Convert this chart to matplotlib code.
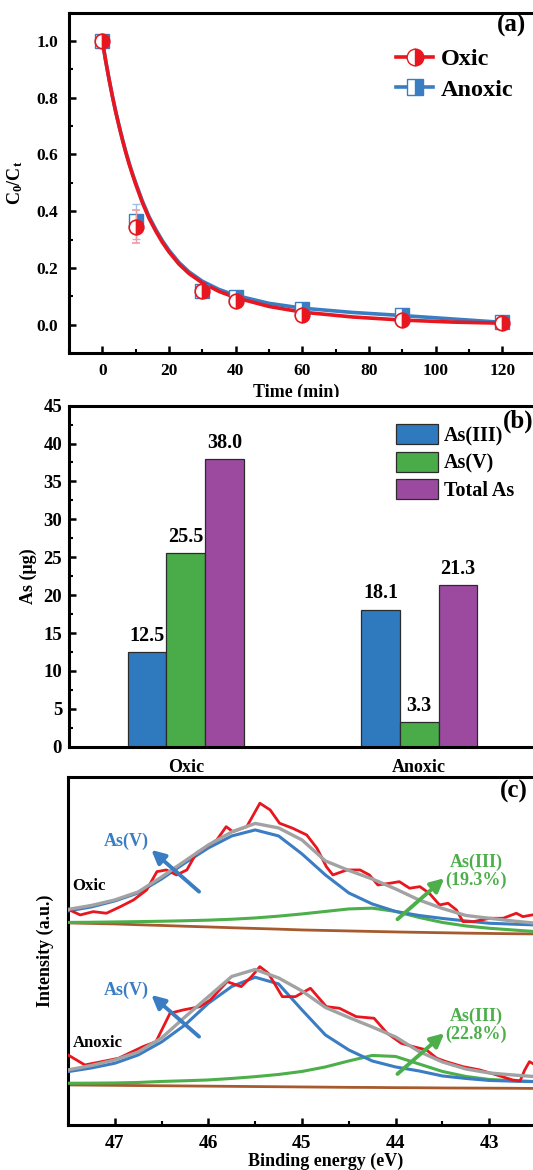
import matplotlib
matplotlib.use("Agg")
import matplotlib.pyplot as plt
from matplotlib.lines import Line2D
from matplotlib.patches import Rectangle
from matplotlib.ticker import MultipleLocator

plt.rcParams["font.family"] = ["Liberation Serif", "DejaVu Serif"]
plt.rcParams["font.weight"] = "bold"
plt.rcParams["axes.labelweight"] = "bold"
plt.rcParams["mathtext.fontset"] = "custom"
plt.rcParams["mathtext.rm"] = "Liberation Serif:bold"
plt.rcParams["mathtext.it"] = "Liberation Serif:bold"
plt.rcParams["mathtext.bf"] = "Liberation Serif:bold"

RED = "#e8161e"
BLUE = "#3a7dc2"
GREEN = "#4caf4a"
GRAY = "#a2a2a2"
BROWN = "#a65a2e"
BAR_BLUE = "#2f79bf"
BAR_GREEN = "#4aab49"
BAR_PURPLE = "#9c4aa0"

# ---- (a) kinetics ----
time_pts = [0, 10, 30, 40, 60, 90, 120]
oxic_pts = [1.0, 0.345, 0.12, 0.085, 0.035, 0.017, 0.005]
oxic_err = [0.01, 0.058, 0.015, 0.012, 0.01, 0.01, 0.008]
anoxic_pts = [1.0, 0.365, 0.12, 0.097, 0.055, 0.033, 0.008]
anoxic_err = [0.01, 0.062, 0.015, 0.012, 0.01, 0.01, 0.008]

time_fit = [0, 1, 2, 3, 4, 5, 6, 7, 8, 9, 10, 12, 14, 16, 18, 20, 23, 26, 30, 35,
            40, 50, 60, 75, 90, 105, 120]
oxic_fit = [1.0, 0.93, 0.865, 0.805, 0.75, 0.70, 0.652, 0.608, 0.567, 0.53, 0.495,
            0.43, 0.375, 0.33, 0.29, 0.256, 0.213, 0.18, 0.147, 0.117,
            0.095, 0.064, 0.044, 0.027, 0.016, 0.009, 0.005]
anoxic_fit = [1.0, 0.93, 0.866, 0.807, 0.752, 0.702, 0.655, 0.611, 0.571, 0.534, 0.5,
              0.436, 0.381, 0.336, 0.296, 0.262, 0.219, 0.186, 0.153, 0.124,
              0.103, 0.075, 0.058, 0.043, 0.032, 0.02, 0.008]

# ---- (b) arsenic speciation ----
conditions = ["Oxic", "Anoxic"]
species = ["As(III)", "As(V)", "Total As"]
as3_ug = [12.5, 18.1]
as5_ug = [25.5, 3.3]
total_ug = [38.0, 21.3]

# ---- (c) XPS As 3d ----
e_fit = [47.5, 47.25, 47.0, 46.75, 46.5, 46.25, 46.0, 45.75, 45.5, 45.25, 45.0,
         44.75, 44.5, 44.25, 44.0, 43.75, 43.5, 43.25, 43.0, 42.75, 42.5]
oxic_bg = [202, 201.5, 201, 200.2, 199.5, 198.7, 198, 197.2, 196.5, 195.8, 195,
           194.5, 194, 193.5, 193, 192.6, 192.2, 191.8, 191.5, 191.2, 191]
oxic_as3 = [202.5, 202.7, 203, 203.3, 203.7, 204.2, 204.8, 205.7, 207, 208.8, 211,
            213.5, 216, 216.8, 213.5, 207.5, 202.5, 199, 196.7, 195, 193.3]
oxic_as5 = [214, 218, 224, 232, 246, 262, 277, 289, 295, 289, 271,
            250, 232, 221, 213.5, 209.5, 206.5, 204, 201.7, 200.8, 200]
oxic_env = [215.5, 219.5, 225, 233, 248, 264, 280, 293, 301.5, 297, 285,
            264, 254.5, 246, 236, 225, 216.5, 209.5, 206.7, 204, 201.7]
oxic_e_raw = [47.5, 47.37, 47.23, 47.09, 46.94, 46.8, 46.66, 46.55, 46.45, 46.34,
              46.23, 46.13, 46.02, 45.91, 45.81, 45.74, 45.59, 45.45, 45.34, 45.24,
              45.1, 44.95, 44.84, 44.74, 44.67, 44.52, 44.38, 44.28, 44.19, 44.06,
              43.96, 43.85, 43.74, 43.64, 43.53, 43.44, 43.35, 43.28, 43.17, 42.99,
              42.85, 42.71, 42.64, 42.54]
oxic_raw = [215.7, 210, 213.3, 211.7, 218.3, 225, 235, 253.3, 255, 250,
            255, 271.7, 278.3, 285, 298.3, 293.3, 298.3, 321.7, 315, 301.7,
            296.7, 290, 276.7, 258.3, 250, 255, 255, 250, 240, 241.7,
            243.3, 236.7, 238.3, 231.7, 220, 221.7, 215, 203.3, 203.3, 206.7,
            206.7, 211.7, 208.3, 210]

anoxic_bg = [40, 39.8, 39.6, 39.4, 39.2, 39, 38.8, 38.6, 38.4, 38.2, 38,
             37.8, 37.6, 37.5, 37.3, 37.2, 37, 36.9, 36.8, 36.7, 36.5]
anoxic_as3 = [41.7, 41.8, 42, 42.5, 43.5, 44.2, 45, 46.5, 48.3, 50.5, 53.5,
              58, 64, 69.5, 68.5, 61, 53.5, 48.5, 45.5, 44.3, 43.3]
anoxic_as5 = [53.3, 57, 61.7, 70, 83, 100, 121.7, 138.5, 147.7, 141, 115,
              90, 75, 64, 58, 54, 49, 46.5, 44.5, 43.8, 43.3]
anoxic_env = [55, 59.5, 65, 73, 87, 108, 128.3, 148.5, 155.5, 147, 134,
              117.5, 107.5, 98, 88, 73.5, 63, 56, 52, 50, 48.3]
anoxic_e_raw = [47.5, 47.32, 47.14, 46.96, 46.7, 46.56, 46.41, 46.27, 46.09, 45.98,
                45.8, 45.65, 45.54, 45.45, 45.36, 45.21, 45.07, 44.91, 44.74, 44.6,
                44.42, 44.23, 44.09, 43.94, 43.81, 43.67, 43.56, 43.46, 43.28, 43.1,
                42.92, 42.75, 42.67, 42.62, 42.57, 42.54]
anoxic_raw = [70, 60, 63.3, 66.7, 78.3, 83.3, 111.7, 115, 118.3, 125,
              143.3, 138.3, 148.3, 158.3, 151.7, 128.3, 128.3, 136.7, 118.3, 116.7,
              108.3, 106.7, 91.7, 81.7, 78.3, 75, 66.7, 63.3, 58.3, 55,
              50, 45, 44, 55, 63.3, 61.7]


def style_axes(ax, labelsize):
    for side in ("top", "right", "left", "bottom"):
        ax.spines[side].set_linewidth(2.2)
    ax.tick_params(which="major", direction="in", length=5, width=1.8,
                   labelsize=labelsize, top=False, right=False)
    ax.tick_params(which="minor", direction="in", length=3, width=1.5,
                   top=False, right=False)


fig = plt.figure(figsize=(5.33, 11.7), dpi=100)

# panel (a)
ax_a = fig.add_axes([0.1295, 0.6983, 0.8757, 0.2909])
ax_a.set_zorder(0)
style_axes(ax_a, 12.5)
ax_a.plot(time_fit, anoxic_fit, color=BLUE, lw=2.6, zorder=2)
ax_a.plot(time_fit, oxic_fit, color=RED, lw=2.6, zorder=3)
ax_a.errorbar(time_pts, anoxic_pts, yerr=anoxic_err, fmt="s", ms=9.5, color=BLUE,
              mec=BLUE, mfc=BLUE, mfcalt="white", fillstyle="right",
              ecolor="#9cc0e6", elinewidth=1, capsize=3, zorder=4)
ax_a.errorbar(time_pts, oxic_pts, yerr=oxic_err, fmt="o", ms=10.5, color=RED,
              mec=RED, mfc=RED, mfcalt="white", fillstyle="right", mew=1.2,
              ecolor="#f29a9e", elinewidth=1, capsize=3, zorder=5)
ax_a.set_xlim(-10, 130)
ax_a.set_ylim(-0.1, 1.1)
ax_a.xaxis.set_major_locator(MultipleLocator(20))
ax_a.xaxis.set_minor_locator(MultipleLocator(10))
ax_a.yaxis.set_major_locator(MultipleLocator(0.2))
ax_a.yaxis.set_minor_locator(MultipleLocator(0.1))
ax_a.tick_params(axis="y", pad=8)
ax_a.tick_params(axis="x", pad=7)
ax_a.set_xlabel("Time (min)", fontsize=13, va="top")
ax_a.xaxis.set_label_coords(0.486, -0.09)
ax_a.set_ylabel(r"$\mathrm{C_0/C_t}$", fontsize=13)
ax_a.yaxis.set_label_coords(-0.095, 0.5)
handles = [
    Line2D([], [], color=RED, lw=2.6, marker="o", ms=12, mec=RED, mfc=RED,
           mfcalt="white", fillstyle="right"),
    Line2D([], [], color=BLUE, lw=2.6, marker="s", ms=11, mec=BLUE, mfc=BLUE,
           mfcalt="white", fillstyle="right"),
]
ax_a.legend(handles, ["Oxic", "Anoxic"], loc="upper left", bbox_to_anchor=(0.70, 0.895),
            frameon=False, fontsize=17.5, handlelength=1.55, handletextpad=0.3,
            labelspacing=0.35, borderaxespad=0, borderpad=0)
ax_a.text(0.948, 0.963, "(a)", transform=ax_a.transAxes, fontsize=18,
          ha="center", va="center")

# hide the bottom of "Time (min)" like the cropped original
fig.add_artist(Rectangle((0, 1 - 406 / 1170), 1, 9 / 1170, transform=fig.transFigure,
                         facecolor="white", edgecolor="none", zorder=0.5))

# panel (b)
ax_b = fig.add_axes([0.1295, 0.3618, 0.876, 0.2915])
ax_b.set_zorder(1)
style_axes(ax_b, 13.5)
pos = [1, 2]
w = 0.166
series = [as3_ug, as5_ug, total_ug]
colors = [BAR_BLUE, BAR_GREEN, BAR_PURPLE]
for i, (vals, col, name) in enumerate(zip(series, colors, species)):
    xs = [p + (i - 1) * w for p in pos]
    ax_b.bar(xs, vals, width=w, color=col, edgecolor="#2b2b2b", lw=0.9,
             label=name, zorder=2)
    for x, v in zip(xs, vals):
        ax_b.text(x, v + 0.8, f"{v:.1f}", ha="center", va="bottom", fontsize=14.5)
ax_b.set_xlim(0.5, 2.5)
ax_b.set_ylim(0, 45)
ax_b.set_xticks(pos)
ax_b.set_xticklabels(conditions, fontsize=13)
ax_b.tick_params(axis="x", length=0, pad=9)
ax_b.tick_params(axis="y", pad=5)
ax_b.yaxis.set_major_locator(MultipleLocator(5))
ax_b.yaxis.set_minor_locator(MultipleLocator(2.5))
ax_b.set_ylabel("As (μg)", fontsize=13)
ax_b.yaxis.set_label_coords(-0.068, 0.5)
ax_b.legend(loc="upper left", bbox_to_anchor=(0.70, 0.945), frameon=False,
            fontsize=14.5, handlelength=2.1, handleheight=1.15, handletextpad=0.3,
            labelspacing=0.28, borderaxespad=0, borderpad=0)
ax_b.text(0.962, 0.955, "(b)", transform=ax_b.transAxes, fontsize=18,
          ha="center", va="center")

# panel (c)
ax_c = fig.add_axes([0.1276, 0.0385, 0.878, 0.2972])
ax_c.set_zorder(2)
style_axes(ax_c, 14)
for e_raw, raw, env, as5, as3, bg in [
    (oxic_e_raw, oxic_raw, oxic_env, oxic_as5, oxic_as3, oxic_bg),
    (anoxic_e_raw, anoxic_raw, anoxic_env, anoxic_as5, anoxic_as3, anoxic_bg),
]:
    ax_c.plot(e_fit, bg, color=BROWN, lw=2.0, zorder=2)
    ax_c.plot(e_fit, as3, color=GREEN, lw=2.2, zorder=3)
    ax_c.plot(e_fit, as5, color=BLUE, lw=2.2, zorder=4)
    ax_c.plot(e_raw, raw, color=RED, lw=2.0, zorder=5)
    ax_c.plot(e_fit, env, color=GRAY, lw=2.4, zorder=6)
ax_c.set_xlim(47.5, 42.5)
ax_c.set_ylim(0, 347.7)
ax_c.xaxis.set_major_locator(MultipleLocator(1))
ax_c.xaxis.set_minor_locator(MultipleLocator(0.5))
ax_c.set_yticks([])
ax_c.tick_params(axis="x", pad=7)
ax_c.set_xlabel("Binding energy (eV)", fontsize=13, va="top")
ax_c.xaxis.set_label_coords(0.551, -0.08)
ax_c.set_ylabel("Intensity (a.u.)", fontsize=13)
ax_c.yaxis.set_label_coords(-0.03, 0.5)

arrow_kw = dict(arrowstyle="-|>", lw=2.8, mutation_scale=20, shrinkA=0, shrinkB=0)
for y_txt, tail, head in [(283.3, (46.10, 233.3), (46.61, 275)),
                          (135.0, (46.10, 88.3), (46.61, 130))]:
    ax_c.annotate("", xy=head, xytext=tail, arrowprops=dict(color=BLUE, **arrow_kw),
                  zorder=7)
    ax_c.text(46.88, y_txt, "As(V)", color=BLUE, fontsize=13, ha="center", va="center")
for txt, y_txt, tail, head in [("As(III)\n(19.3%)", 253.3, (43.98, 205.7), (43.48, 246.7)),
                               ("As(III)\n(22.8%)", 99.2, (43.98, 51), (43.48, 91.7))]:
    ax_c.annotate("", xy=head, xytext=tail, arrowprops=dict(color=GREEN, **arrow_kw),
                  zorder=7)
    ax_c.text(43.14, y_txt, txt, color=GREEN, fontsize=13, ha="center", va="center",
              linespacing=1.05)
ax_c.text(47.45, 239, "Oxic", fontsize=12, ha="left", va="center")
ax_c.text(47.45, 82.3, "Anoxic", fontsize=12, ha="left", va="center")
ax_c.text(0.953, 0.958, "(c)", transform=ax_c.transAxes, fontsize=18,
          ha="center", va="center")

fig.savefig("out.png", dpi=100)
